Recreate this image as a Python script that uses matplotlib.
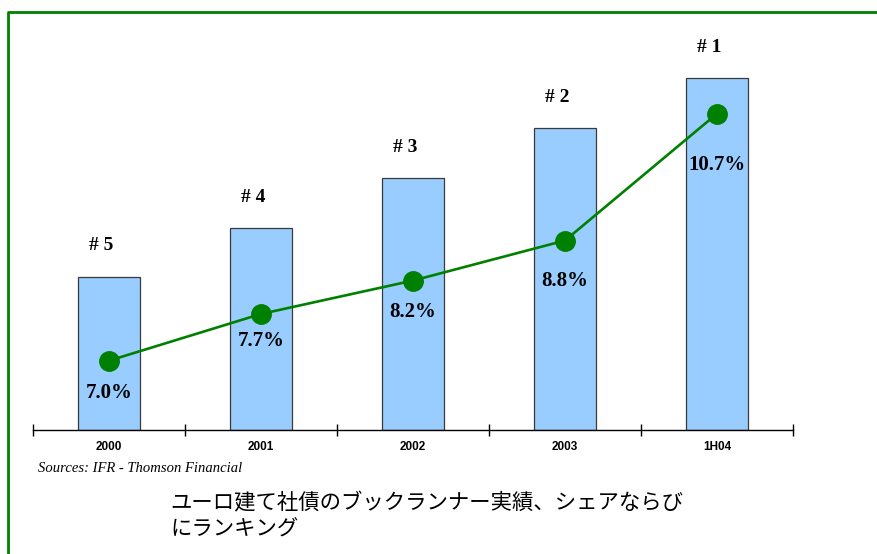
import matplotlib
matplotlib.use("Agg")
import matplotlib.pyplot as plt
from matplotlib.lines import Line2D

categories = ["2000", "2001", "2002", "2003", "1H04"]
bar_values = [153, 202, 252, 302, 352]          # relative volume (arbitrary units)
share_values = [7.0, 7.7, 8.2, 8.8, 10.7]       # market share, %
rank_labels = ["# 5", "# 4", "# 3", "# 2", "# 1"]
share_labels = ["7.0%", "7.7%", "8.2%", "8.8%", "10.7%"]
label_offsets = [-32, -27, -31, -40, -51]        # px below marker
source_text = "Sources: IFR - Thomson Financial"
caption = "ユーロ建て社債のブックランナー実績、シェアならび\nにランキング"

W, H = 877, 554
fig = plt.figure(figsize=(W / 100, H / 100), dpi=100)

ax_left, ax_right = 33, 793
ax_bottom, ax_top = 430, 30
ax = fig.add_axes([ax_left / W, 1 - ax_bottom / H,
                   (ax_right - ax_left) / W, (ax_bottom - ax_top) / H])
x = list(range(len(categories)))
ax.bar(x, bar_values, width=0.41, color="#99CCFF", edgecolor="#3a3a3a",
       linewidth=0.9, zorder=2)
ax.set_xlim(-0.5, len(categories) - 0.5)
ax.set_ylim(0, ax_bottom - ax_top)
for xi, v, lab in zip(x, bar_values, rank_labels):
    ax.annotate(lab, (xi, v), xytext=(-8, 31), textcoords="offset pixels",
                ha="center", va="center", fontsize=14, fontweight="bold",
                family="Liberation Serif")

for s in ["top", "right", "left"]:
    ax.spines[s].set_visible(False)
ax.spines["bottom"].set_linewidth(1.0)
ax.set_yticks([])
ax.set_xticks([i - 0.5 for i in range(len(categories) + 1)])
ax.set_xticklabels([])
ax.tick_params(axis="x", direction="inout", length=9, width=1)
ax.set_xticks(x, minor=True)
ax.set_xticklabels(categories, minor=True, fontsize=8.5, fontweight="bold",
                   family="Liberation Sans")
ax.tick_params(axis="x", which="minor", length=0, pad=8)

ax2 = ax.twinx()
ax2.set_ylim((828 - ax_bottom) / 66.76, (828 - ax_top) / 66.76)
ax2.plot(x, share_values, color="#008000", linewidth=1.9, marker="o",
         markersize=14, zorder=3)
for xi, v, lab, off in zip(x, share_values, share_labels, label_offsets):
    ax2.annotate(lab, (xi, v), xytext=(0, off), textcoords="offset pixels",
                 ha="center", va="center", fontsize=15, fontweight="bold",
                 family="Liberation Serif")
ax2.axis("off")

fig.text(38 / W, 1 - 468 / H, source_text, fontsize=10.5, style="italic",
         family="Liberation Serif", va="center", ha="left")
fig.text(170 / W, 1 - 492 / H, caption, fontsize=15.4, va="top", ha="left",
         family=["Noto Sans CJK JP", "DejaVu Sans"], linespacing=1.25)

fig.add_artist(Line2D([8 / W, 8 / W, 1], [0, 1 - 12 / H, 1 - 12 / H],
                      transform=fig.transFigure, color="#008000", linewidth=2))

fig.savefig("out.png", dpi=100)
